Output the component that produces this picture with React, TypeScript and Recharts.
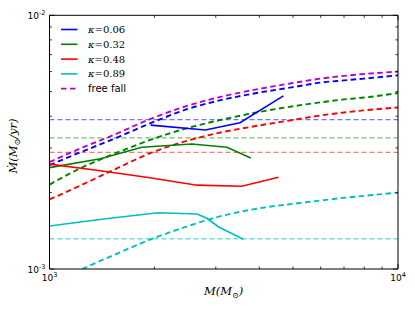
import React from "react";
import { LineChart, Line, XAxis, YAxis, ReferenceLine } from "recharts";

const massTicks = [1000, 2000, 3000, 4000, 5000, 6000, 7000, 8000, 9000, 10000];
const rateTicks = [0.001, 0.002, 0.003, 0.004, 0.005, 0.006, 0.007, 0.008, 0.009, 0.01];

// simulated accretion rates (solid)
const massK006 = [1950, 2800, 3520, 4690];
const rateK006 = [0.00369, 0.00353, 0.00377, 0.00481];
const massK032 = [1000, 1400, 1840, 2560, 3230, 3780];
const rateK032 = [0.00251, 0.00272, 0.00302, 0.00311, 0.00302, 0.00274];
const massK048 = [1000, 1400, 1940, 2650, 3560, 4540];
const rateK048 = [0.00259, 0.00244, 0.00229, 0.00214, 0.00212, 0.0023];
const massK089 = [1000, 1430, 2050, 2650, 2830, 3050, 3600];
const rateK089 = [0.001477, 0.001575, 0.001667, 0.001647, 0.001585, 0.001468, 0.00131];

// analytic estimates (dashed)
const curveMass = [1000, 1200, 1500, 2000, 2500, 3000, 4000, 5000, 6000, 7000, 8000, 10000];
const freeFall = [0.00264, 0.00295, 0.00334, 0.00396, 0.00441, 0.00472, 0.00513, 0.00541, 0.00563, 0.00577, 0.00587, 0.006];
const curveK006 = [0.002566, 0.00285, 0.00322, 0.00381, 0.00428, 0.00458, 0.00496, 0.00521, 0.00543, 0.00554, 0.00563, 0.0058];
const curveK032 = [0.00215, 0.00246, 0.00281, 0.00327, 0.0036, 0.00383, 0.00416, 0.00438, 0.00454, 0.00466, 0.00474, 0.00494];
const curveK048 = [0.00188, 0.002105, 0.00243, 0.002905, 0.00321, 0.00342, 0.00368, 0.00387, 0.00403, 0.00414, 0.00422, 0.00433];
const curveMassK089 = [1240, 1500, 2000, 2500, 3000, 4000, 5000, 6000, 7000, 8000, 10000];
const curveK089 = [0.001, 0.001122, 0.001325, 0.001477, 0.001596, 0.001735, 0.001807, 0.001862, 0.001908, 0.001943, 0.002];

// constant rates
const levelK006 = 0.00388;
const levelK032 = 0.00329;
const levelK048 = 0.00288;
const levelK089 = 0.001316;

const legendLabels = ["0.06", "0.32", "0.48", "0.89"];
const colors = ["#0000ff", "#008000", "#ff0000", "#00bfbf"];
const freeFallColor = "#bf00bf";

const zip = (m: number[], r: number[]) => m.map((v, i) => ({ m: v, r: r[i] }));

const solidSeries = [
  zip(massK006, rateK006),
  zip(massK032, rateK032),
  zip(massK048, rateK048),
  zip(massK089, rateK089),
];
const dashedSeries = [
  zip(curveMass, curveK006),
  zip(curveMass, curveK032),
  zip(curveMass, curveK048),
  zip(curveMassK089, curveK089),
];
const levels = [levelK006, levelK032, levelK048, levelK089];

const tickFont = "DejaVu Sans, sans-serif";
const mathFont = "DejaVu Serif, serif";

const isMajor = (v: number) => Math.abs(Math.log10(v) - Math.round(Math.log10(v))) < 1e-6;

function Power({ x, y, value, anchor }: { x: number; y: number; value: number; anchor: "middle" | "end" }) {
  const exp = Math.round(Math.log10(value));
  return (
    <text x={x} y={y} textAnchor={anchor} fontSize={9} fontFamily={tickFont} fill="#000">
      10
      <tspan dy={-4} fontSize={6.5}>
        {exp < 0 ? `-${-exp}` : `${exp}`}
      </tspan>
    </text>
  );
}

function BottomTick({ x, y, payload }: any) {
  const major = isMajor(payload.value);
  return (
    <g>
      <line x1={x} x2={x} y1={y} y2={y - (major ? 5 : 2.5)} stroke="#000" strokeWidth={0.8} />
      {major && <Power x={x} y={y + 12} value={payload.value} anchor="middle" />}
    </g>
  );
}

function TopTick({ x, y, payload }: any) {
  const major = isMajor(payload.value);
  return <line x1={x} x2={x} y1={y} y2={y + (major ? 5 : 2.5)} stroke="#000" strokeWidth={0.8} />;
}

function LeftTick({ x, y, payload }: any) {
  const major = isMajor(payload.value);
  return (
    <g>
      <line x1={x} x2={x + (major ? 5 : 2.5)} y1={y} y2={y} stroke="#000" strokeWidth={0.8} />
      {major && <Power x={x - 4} y={y + 4} value={payload.value} anchor="end" />}
    </g>
  );
}

function RightTick({ x, y, payload }: any) {
  const major = isMajor(payload.value);
  return <line x1={x} x2={x - (major ? 5 : 2.5)} y1={y} y2={y} stroke="#000" strokeWidth={0.8} />;
}

function Overlay() {
  const rowY = (i: number) => 29.5 + i * 14.8;
  return (
    <svg width={415} height={312} style={{ position: "absolute", left: 0, top: 0, pointerEvents: "none" }}>
      {legendLabels.map((label, i) => (
        <g key={label}>
          <line x1={61} x2={77.5} y1={rowY(i)} y2={rowY(i)} stroke={colors[i]} strokeWidth={1.6} />
          <text x={88} y={rowY(i) + 3.5} fontSize={10} fontFamily={mathFont} fill="#000">
            <tspan fontStyle="italic">κ</tspan>=
            {label}
          </text>
        </g>
      ))}
      <line x1={61} x2={77.5} y1={rowY(4)} y2={rowY(4)} stroke={freeFallColor} strokeWidth={1.8} strokeDasharray="5.5 3.5" />
      <text x={88} y={rowY(4) + 3.5} fontSize={10} fontFamily={tickFont} fill="#000">
        free fall
      </text>
      <text x={223.5} y={295} textAnchor="middle" fontSize={11.5} fontFamily={mathFont} fontStyle="italic" fill="#000">
        M(M<tspan dy={3} fontSize={8}>⊙</tspan>
        <tspan dy={-3}>)</tspan>
      </text>
      <text
        x={0}
        y={0}
        transform="translate(17,146) rotate(-90)"
        textAnchor="middle"
        fontSize={11.5}
        fontFamily={mathFont}
        fontStyle="italic"
        fill="#000"
      >
        Ṁ(M<tspan dy={3} fontSize={8}>⊙</tspan>
        <tspan dy={-3}>/yr)</tspan>
      </text>
    </svg>
  );
}

export default function App() {
  return (
    <div style={{ position: "absolute", left: 0, top: 0, width: 415, height: 312, background: "#fff" }}>
      <LineChart width={415} height={312} margin={{ top: 0, right: 0, bottom: 0, left: 0 }}>
        <XAxis
          xAxisId="b"
          dataKey="m"
          type="number"
          scale="log"
          domain={[1000, 10000]}
          allowDataOverflow
          ticks={massTicks}
          interval={0}
          height={43}
          tickSize={0}
          tickMargin={0}
          tickLine={false}
          axisLine={{ stroke: "#000", strokeWidth: 1 }}
          tick={<BottomTick />}
        />
        <XAxis
          xAxisId="t"
          orientation="top"
          dataKey="m"
          type="number"
          scale="log"
          domain={[1000, 10000]}
          allowDataOverflow
          ticks={massTicks}
          interval={0}
          height={15.3}
          tickSize={0}
          tickMargin={0}
          tickLine={false}
          axisLine={{ stroke: "#000", strokeWidth: 1 }}
          tick={<TopTick />}
        />
        <YAxis
          yAxisId="l"
          type="number"
          scale="log"
          domain={[0.001, 0.01]}
          allowDataOverflow
          ticks={rateTicks}
          interval={0}
          width={49.5}
          tickSize={0}
          tickMargin={0}
          tickLine={false}
          axisLine={{ stroke: "#000", strokeWidth: 1 }}
          tick={<LeftTick />}
        />
        <YAxis
          yAxisId="r"
          orientation="right"
          type="number"
          scale="log"
          domain={[0.001, 0.01]}
          allowDataOverflow
          ticks={rateTicks}
          interval={0}
          width={17}
          tickSize={0}
          tickMargin={0}
          tickLine={false}
          axisLine={{ stroke: "#000", strokeWidth: 1 }}
          tick={<RightTick />}
        />
        {levels.map((lv, i) => (
          <ReferenceLine
            key={`lv-${i}`}
            xAxisId="b"
            yAxisId="l"
            y={lv}
            stroke={colors[i]}
            strokeOpacity={0.55}
            strokeWidth={1.3}
            strokeDasharray="5 3"
          />
        ))}
        {dashedSeries.map((d, i) => (
          <Line
            key={`d-${i}`}
            xAxisId="b"
            yAxisId="l"
            data={d}
            dataKey="r"
            type="monotone"
            stroke={colors[i]}
            strokeWidth={1.9}
            strokeDasharray="5.5 3.5"
            dot={false}
            isAnimationActive={false}
          />
        ))}
        <Line
          xAxisId="b"
          yAxisId="l"
          data={zip(curveMass, freeFall)}
          dataKey="r"
          type="monotone"
          stroke={freeFallColor}
          strokeWidth={1.9}
          strokeDasharray="5.5 3.5"
          dot={false}
          isAnimationActive={false}
        />
        {solidSeries.map((d, i) => (
          <Line
            key={`s-${i}`}
            xAxisId="b"
            yAxisId="l"
            data={d}
            dataKey="r"
            type="linear"
            stroke={colors[i]}
            strokeWidth={1.6}
            dot={false}
            isAnimationActive={false}
          />
        ))}
      </LineChart>
      <Overlay />
    </div>
  );
}
